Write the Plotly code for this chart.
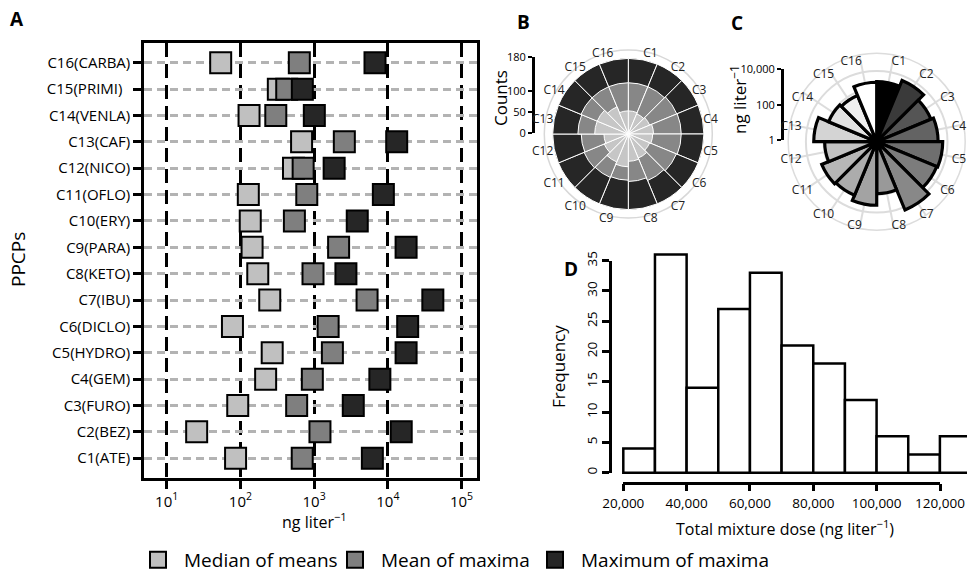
import plotly.graph_objects as go

# ---------------- data ----------------
compounds = ["C1(ATE)", "C2(BEZ)", "C3(FURO)", "C4(GEM)", "C5(HYDRO)", "C6(DICLO)",
             "C7(IBU)", "C8(KETO)", "C9(PARA)", "C10(ERY)", "C11(OFLO)", "C12(NICO)",
             "C13(CAF)", "C14(VENLA)", "C15(PRIMI)", "C16(CARBA)"]
median_of_means = [86, 25.5, 92, 220, 270, 78, 250, 172, 144, 136, 128, 525, 676, 131, 327, 54]
mean_of_maxima = [690, 1200, 580, 946, 1770, 1550, 5230, 966, 2150, 540, 795, 710, 2570, 302, 425, 630]
max_of_maxima = [6170, 15200, 3400, 7800, 17700, 18600, 40800, 2700, 17700, 3850, 8700, 1870,
                 13200, 1007, 692, 6700]
x_tick_vals = [10, 100, 1000, 10000, 100000]
x_tick_text = ["10<sup>1</sup>", "10<sup>2</sup>", "10<sup>3</sup>", "10<sup>4</sup>", "10<sup>5</sup>"]

short_labels = ["C1", "C2", "C3", "C4", "C5", "C6", "C7", "C8", "C9", "C10", "C11", "C12",
                "C13", "C14", "C15", "C16"]
counts_dark = [180, 180, 180, 180, 180, 180, 180, 180, 180, 180, 180, 180, 180, 180, 180, 180]
counts_medium = [122, 122, 125, 126, 126, 124, 120, 113, 110, 112, 114, 112, 120, 122, 122, 122]
counts_light = [55, 52, 55, 60, 58, 55, 62, 65, 78, 72, 62, 58, 80, 80, 70, 55]
count_ticks = [0, 50, 100, 180]

conc_values = [2450, 5600, 2080, 2950, 5350, 4700, 15000, 870, 3900, 1900, 2300, 870,
               3600, 870, 665, 2280]
conc_ticks = [1, 100, 10000]
conc_tick_text = ["1", "100", "10,000"]

bin_left = [20000, 30000, 40000, 50000, 60000, 70000, 80000, 90000, 100000, 110000, 120000]
frequency = [4, 36, 14, 27, 33, 21, 18, 12, 6, 3, 6]
dose_ticks = [20000, 40000, 60000, 80000, 100000, 120000]

# ---------------- helpers ----------------
W, H = 967, 583
def px(x):
    return x / W
def py(y):
    return 1 - y / H

FONT = "Open Sans"
c_light, c_med, c_dark = "#c0c0c0", "#7f7f7f", "#262626"
grays_C = ["#000000", "#3a3a3a", "#555555", "#636363", "#6f6f6f", "#7c7c7c", "#888888", "#999999",
           "#a3a3a3", "#acacac", "#b6b6b6", "#c2c2c2", "#d4d4d4", "#e2e2e2", "#efefef", "#ffffff"]

n = len(short_labels)
theta = [(i + 0.5) * 360 / n for i in range(n)]
sector = 360 / n

fig = go.Figure()

# ---------------- panel A ----------------
for name, vals, col, lg in [("Median of means", median_of_means, c_light, "legend"),
                            ("Mean of maxima", mean_of_maxima, c_med, "legend2"),
                            ("Maximum of maxima", max_of_maxima, c_dark, "legend3")]:
    fig.add_trace(go.Scatter(x=vals, y=compounds, mode="markers", name=name, legend=lg,
                             marker=dict(symbol="square", size=21, color=col,
                                         line=dict(color="black", width=2)),
                             xaxis="x", yaxis="y", hoverinfo="x+y"))

ytick_text = [c + ("\u00a0\u00a0" if c == "C15(PRIMI)" else "") for c in compounds]

# ---------------- panel B ----------------
for vals, col in [(counts_dark, c_dark), (counts_medium, "#878787"), (counts_light, "#c6c6c6")]:
    fig.add_trace(go.Barpolar(r=vals, theta=theta, width=sector, subplot="polar",
                              marker=dict(color=col, line=dict(color="white", width=1)),
                              showlegend=False))
fig.add_trace(go.Barpolar(r=[], theta=[], subplot="polar3", showlegend=False))

# ---------------- panel C ----------------
fig.add_trace(go.Barpolar(r=conc_values, theta=theta, width=sector, base=1, subplot="polar2",
                          marker=dict(color=grays_C, line=dict(color="black", width=3.2)),
                          showlegend=False))
fig.add_trace(go.Barpolar(r=[], theta=[], subplot="polar4", showlegend=False))

# scale-bar axes (B and C)
fig.add_trace(go.Scatter(x=[], y=[], xaxis="x5", yaxis="y5", showlegend=False))
fig.add_trace(go.Scatter(x=[], y=[], xaxis="x6", yaxis="y6", showlegend=False))

# ---------------- panel D ----------------
fig.add_trace(go.Bar(x=bin_left, y=frequency, width=10000, offset=0, xaxis="x3", yaxis="y3",
                     marker=dict(color="white", line=dict(color="black", width=2.5)),
                     showlegend=False))
fig.add_trace(go.Scatter(x=[], y=[], xaxis="x4", yaxis="y4", showlegend=False))

# D geometry
x0_px, x_per_k = 623.3, 3.166      # 20,000 position, px per 1000
y0_px, y_per = 472.7, 6.06         # 0 count position, px per count
d_left, d_right = 615.0, 967.0
d_bottom, d_top = 476.0, 250.0
x3_range = [20000 - (x0_px - d_left) / x_per_k * 1000, 20000 + (d_right - x0_px) / x_per_k * 1000]
y3_range = [-(d_bottom - y0_px) / y_per, (y0_px - d_top) / y_per]

axis_common = dict(showgrid=False, zeroline=False, linecolor="black", tickcolor="black",
                   automargin=False)

# polar geometry
bc, br, bl = (628.3, 134.0), 84.0, 76.0
cc, cr, cl = (876.7, 141.7), 88.5, 76.0
def dom(center, r):
    return dict(x=[px(center[0] - r), px(center[0] + r)], y=[py(center[1] + r), py(center[1] - r)])

ang_common = dict(rotation=90, direction="clockwise", tickmode="array", tickvals=theta)

leg_common = dict(yanchor="middle", orientation="h", font=dict(size=19), bgcolor="rgba(0,0,0,0)",
                  itemwidth=42, xanchor="left")

fig.update_layout(
    template="none",
    width=W, height=H, margin=dict(l=0, r=0, t=0, b=0, pad=0, autoexpand=False),
    paper_bgcolor="white", plot_bgcolor="rgba(0,0,0,0)",
    font=dict(family=FONT, color="black"),
    xaxis=dict(domain=[px(144), px(477)], type="log", range=[0.692, 5.21], anchor="y",
               tickmode="array", tickvals=x_tick_vals, ticktext=x_tick_text,
               ticks="outside", ticklen=8, tickwidth=2.5, tickcolor="black",
               showline=True, linewidth=2.5, linecolor="black", mirror=True,
               showgrid=True, gridcolor="black", gridwidth=2.5, griddash="14px,7px",
               zeroline=False, tickfont=dict(size=15), automargin=False),
    yaxis=dict(domain=[py(478), py(43)], type="category", categoryorder="array",
               categoryarray=compounds, range=[-0.75, 15.75], anchor="x",
               tickmode="array", tickvals=compounds, ticktext=ytick_text,
               ticks="outside", ticklen=8, tickwidth=2.5, tickcolor="black",
               showline=True, linewidth=2.5, linecolor="black", mirror=True,
               showgrid=True, gridcolor="#b3b3b3", gridwidth=2.5, griddash="8px,5px",
               zeroline=False, tickfont=dict(size=15), automargin=False),
    polar=dict(domain=dom(bc, br), bgcolor="rgba(0,0,0,0)", barmode="overlay",
               radialaxis=dict(range=[0, 200], visible=False),
               angularaxis=dict(**ang_common, showline=True, linecolor="#d8d8d8", linewidth=1.5,
                                showgrid=False, ticks="", showticklabels=False)),
    polar3=dict(domain=dom(bc, bl), bgcolor="rgba(0,0,0,0)",
                radialaxis=dict(visible=False),
                angularaxis=dict(**ang_common, ticktext=short_labels, ticks="", showline=False,
                                 showgrid=False, tickfont=dict(size=12, color="#222"))),
    polar2=dict(domain=dom(cc, cr), bgcolor="rgba(0,0,0,0)",
                radialaxis=dict(type="log", range=[0, 5], tickvals=[10, 100, 1000, 10000],
                                showticklabels=False, ticks="", showline=False,
                                gridcolor="#dcdcdc", gridwidth=1.5),
                angularaxis=dict(**ang_common, showticklabels=False, ticks="", showgrid=True,
                                 gridcolor="#dcdcdc", gridwidth=1.5, showline=True,
                                 linecolor="#dcdcdc", linewidth=1.5)),
    polar4=dict(domain=dom(cc, cl), bgcolor="rgba(0,0,0,0)",
                radialaxis=dict(visible=False),
                angularaxis=dict(**ang_common, ticktext=short_labels, ticks="", showline=False,
                                 showgrid=False, tickfont=dict(size=12, color="#222"))),
    xaxis5=dict(domain=[0.0, 0.001], visible=False, anchor="y5"),
    yaxis5=dict(domain=[py(132.7), py(57.3)], range=[0, 180], anchor="free", position=px(532.7),
                tickmode="array", tickvals=count_ticks, ticks="outside", ticklen=4, tickwidth=2,
                showline=True, linewidth=2.5, tickfont=dict(size=11), **axis_common),
    xaxis6=dict(domain=[0.0, 0.001], visible=False, anchor="y6"),
    yaxis6=dict(domain=[py(140), py(69.3)], type="log", range=[0, 4], anchor="free",
                position=px(781.7), tickmode="array", tickvals=conc_ticks, ticktext=conc_tick_text,
                ticks="outside", ticklen=4, tickwidth=2, showline=True, linewidth=2.5,
                tickfont=dict(size=11), **axis_common),
    xaxis3=dict(domain=[px(d_left), 1.0], range=x3_range, visible=False, anchor="y3"),
    yaxis3=dict(domain=[py(d_bottom), py(d_top)], range=y3_range, visible=False, anchor="x3"),
    xaxis4=dict(domain=[px(x0_px), px(940)], range=[20000, 120000], anchor="free",
                position=py(482.7), tickmode="array", tickvals=dose_ticks,
                ticktext=[f"{v:,}" for v in dose_ticks], ticks="outside", ticklen=7,
                tickwidth=2.5, showline=True, linewidth=2.5, tickfont=dict(size=13.5),
                **axis_common),
    yaxis4=dict(domain=[py(y0_px), py(260.7)], range=[0, 35], anchor="free", position=px(610),
                dtick=5, tick0=0, tickangle=-90, ticks="outside", ticklen=7, tickwidth=2.5,
                showline=True, linewidth=2.5, tickfont=dict(size=13.5), **axis_common),
    legend=dict(x=px(159 - 27), y=py(560), **leg_common),
    legend2=dict(x=px(356 - 27), y=py(560), **leg_common),
    legend3=dict(x=px(556 - 27), y=py(560), **leg_common),
)

def ann(text, x, y, size, angle=0, bold=False):
    fig.add_annotation(text=f"<b>{text}</b>" if bold else text, x=px(x), y=py(y),
                       xref="paper", yref="paper", showarrow=False, textangle=angle,
                       font=dict(size=size, family=FONT, color="black"),
                       xanchor="center", yanchor="middle")

ann("A", 17, 19, 19, bold=True)
ann("B", 523, 22, 19, bold=True)
ann("C", 737, 23, 19, bold=True)
ann("D", 571, 269, 19, bold=True)
ann("PPCPs", 18, 260, 19, angle=-90)
ann("ng liter<sup>\u22121</sup>", 314, 521, 16)
ann("Counts", 500, 98, 17, angle=-90)
ann("ng liter<sup>\u22121</sup>", 738, 100, 17, angle=-90)
ann("Frequency", 558, 367, 17, angle=-90)
ann("Total mixture dose (ng liter<sup>\u22121</sup>)", 785, 528, 16)

fig.write_html("out.html")
